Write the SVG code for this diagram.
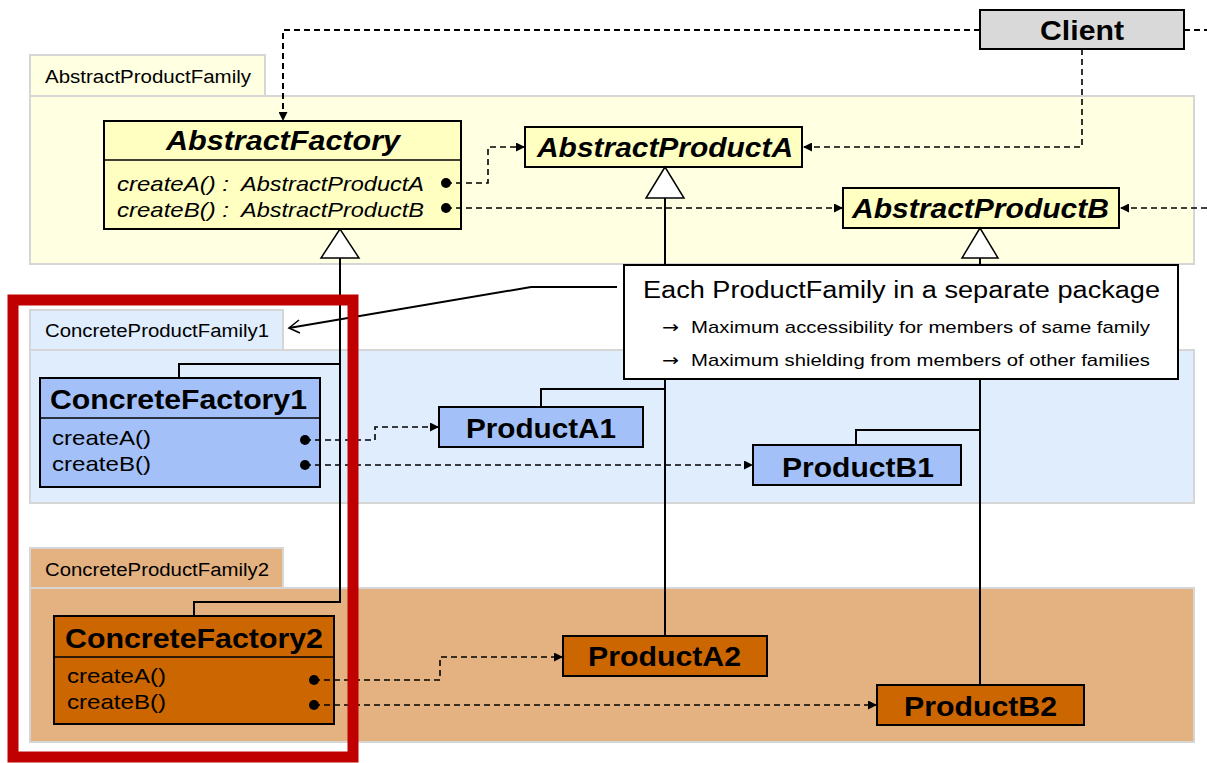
<svg xmlns="http://www.w3.org/2000/svg" width="1207" height="763" viewBox="0 0 1207 763">
<style>
text{font-family:"Liberation Sans",Arial,sans-serif;fill:#000}
.pkgY{fill:#ffffe1;stroke:#d6d6d6;stroke-width:2}
.pkgB{fill:#dfedfd;stroke:#d6d6d6;stroke-width:2}
.pkgO{fill:#e4b281;stroke:#d6d6d6;stroke-width:2}
.tab{font-size:18px}
.cY{fill:#ffffc2;stroke:#000;stroke-width:2}
.cB{fill:#a3c1f8;stroke:#000;stroke-width:2}
.cO{fill:#cc6600;stroke:#000;stroke-width:2}
.cG{fill:#d9d9d9;stroke:#000;stroke-width:2}
.sep{stroke:#000;stroke-width:1.5}
.bi{font-size:27px;font-weight:bold;font-style:italic}
.b{font-size:28px;font-weight:bold}
.mi{font-size:21px;font-style:italic}
.m{font-size:21px}
.dot{fill:#000}
.dash{fill:none;stroke:#000;stroke-width:1.6;stroke-dasharray:6 4;marker-end:url(#ah)}
.dashN{fill:none;stroke:#000;stroke-width:1.6;stroke-dasharray:6 4}
.gen{fill:none;stroke:#000;stroke-width:2}
.tri{fill:#fff;stroke:#000;stroke-width:1.5}
.arr{font-family:"DejaVu Sans",sans-serif;font-size:17px}
</style>
<defs>
<marker id="ah" viewBox="0 0 10 10" refX="10" refY="5" markerWidth="9" markerHeight="9" markerUnits="userSpaceOnUse" orient="auto">
<path d="M0,0 L10,5 L0,10 z" fill="#000"/>
</marker>
</defs>
<rect width="1207" height="763" fill="#fff"/>

<g id="pkg-abstract">
<rect class="pkgY" x="30" y="55" width="235" height="41"/>
<rect class="pkgY" x="30" y="96" width="1164" height="168"/>
<text class="tab" x="45" y="83" textLength="206" lengthAdjust="spacingAndGlyphs">AbstractProductFamily</text>
</g>
<g id="pkg-family1">
<rect class="pkgB" x="30" y="310" width="253" height="40"/>
<rect class="pkgB" x="30" y="350" width="1164" height="153"/>
<text class="tab" x="45" y="337" textLength="224" lengthAdjust="spacingAndGlyphs">ConcreteProductFamily1</text>
</g>
<g id="pkg-family2">
<rect class="pkgO" x="30" y="548" width="253" height="40"/>
<rect class="pkgO" x="30" y="588" width="1164" height="154"/>
<text class="tab" x="45" y="576" textLength="224" lengthAdjust="spacingAndGlyphs">ConcreteProductFamily2</text>
</g>

<g id="client">
<rect class="cG" x="980" y="10" width="204" height="39"/>
<text class="b" x="1040" y="40" textLength="84" lengthAdjust="spacingAndGlyphs">Client</text>
</g>
<g id="abstract-factory">
<rect class="cY" x="104" y="121" width="357" height="108"/>
<line class="sep" x1="104" y1="160" x2="461" y2="160"/>
<text class="bi" x="166" y="150" textLength="234" lengthAdjust="spacingAndGlyphs">AbstractFactory</text>
<text class="mi" x="117" y="191" textLength="112" lengthAdjust="spacingAndGlyphs">createA() :</text>
<text class="mi" x="241" y="191" textLength="183" lengthAdjust="spacingAndGlyphs">AbstractProductA</text>
<text class="mi" x="117" y="217" textLength="112" lengthAdjust="spacingAndGlyphs">createB() :</text>
<text class="mi" x="241" y="217" textLength="183" lengthAdjust="spacingAndGlyphs">AbstractProductB</text>
<circle class="dot" cx="446" cy="183" r="5"/>
<circle class="dot" cx="446" cy="208" r="5"/>
</g>
<g id="abstract-product-a">
<rect class="cY" x="525" y="127" width="277" height="40"/>
<text class="bi" x="537" y="157" textLength="256" lengthAdjust="spacingAndGlyphs">AbstractProductA</text>
</g>
<g id="abstract-product-b">
<rect class="cY" x="843" y="188" width="276" height="40"/>
<text class="bi" x="852" y="218" textLength="257" lengthAdjust="spacingAndGlyphs">AbstractProductB</text>
</g>
<g id="concrete-factory1">
<rect class="cB" x="40" y="378" width="280" height="109"/>
<line class="sep" x1="40" y1="418" x2="320" y2="418"/>
<text class="b" x="50" y="409" textLength="257" lengthAdjust="spacingAndGlyphs">ConcreteFactory1</text>
<text class="m" x="52" y="445" textLength="99" lengthAdjust="spacingAndGlyphs">createA()</text>
<text class="m" x="52" y="471" textLength="99" lengthAdjust="spacingAndGlyphs">createB()</text>
<circle class="dot" cx="305" cy="440" r="5"/>
<circle class="dot" cx="305" cy="465" r="5"/>
</g>
<g id="product-a1">
<rect class="cB" x="439" y="407" width="204" height="40"/>
<text class="b" x="466" y="438" textLength="150" lengthAdjust="spacingAndGlyphs">ProductA1</text>
</g>
<g id="product-b1">
<rect class="cB" x="753" y="445" width="208" height="40"/>
<text class="b" x="782" y="477" textLength="152" lengthAdjust="spacingAndGlyphs">ProductB1</text>
</g>
<g id="concrete-factory2">
<rect class="cO" x="54" y="616" width="280" height="108"/>
<line class="sep" x1="54" y1="657" x2="334" y2="657"/>
<text class="b" x="65" y="648" textLength="258" lengthAdjust="spacingAndGlyphs">ConcreteFactory2</text>
<text class="m" x="67" y="683" textLength="99" lengthAdjust="spacingAndGlyphs">createA()</text>
<text class="m" x="67" y="709" textLength="99" lengthAdjust="spacingAndGlyphs">createB()</text>
<circle class="dot" cx="314" cy="680" r="5"/>
<circle class="dot" cx="314" cy="705" r="5"/>
</g>
<g id="product-a2">
<rect class="cO" x="563" y="636" width="204" height="40"/>
<text class="b" x="588" y="666" textLength="153" lengthAdjust="spacingAndGlyphs">ProductA2</text>
</g>
<g id="product-b2">
<rect class="cO" x="877" y="685" width="207" height="40"/>
<text class="b" x="904" y="716" textLength="153" lengthAdjust="spacingAndGlyphs">ProductB2</text>
</g>

<g id="connectors">
<polyline class="gen" points="340,258 340,602 194,602 194,616"/>
<polyline class="gen" points="340,364 179,364 179,378"/>
<polyline class="gen" points="665,198 665,636"/>
<polyline class="gen" points="665,389 541,389 541,407"/>
<polyline class="gen" points="980,258 980,685"/>
<polyline class="gen" points="980,430 856,430 856,445"/>
<polygon class="tri" points="340,229 321,258 359,258"/>
<polygon class="tri" points="665,167 646,198 684,198"/>
<polygon class="tri" points="980,228 962,258 998,258"/>
<polyline class="dash" style="stroke-width:2" points="980,30 283,30 283,121"/>
<polyline class="dashN" style="stroke-width:2" points="1184,30 1207,30"/>
<polyline class="dash" points="1082,49 1082,147 803,147"/>
<polyline class="dash" points="1207,208 1120,208"/>
<polyline class="dash" points="446,183 488,183 488,147 525,147"/>
<polyline class="dash" points="446,208 843,208"/>
<polyline class="dash" points="305,440 375,440 375,427 439,427"/>
<polyline class="dash" points="305,465 753,465"/>
<polyline class="dash" points="314,680 440,680 440,657 563,657"/>
<polyline class="dash" points="314,705 877,705"/>
</g>

<g id="note">
<rect x="624" y="265" width="554" height="114" fill="#fff" stroke="#000" stroke-width="2"/>
<text x="643" y="298" font-size="23" textLength="517" lengthAdjust="spacingAndGlyphs">Each ProductFamily in a separate package</text>
<text class="arr" x="662" y="333" textLength="17" lengthAdjust="spacingAndGlyphs">→</text>
<text x="691" y="333" font-size="17" textLength="459" lengthAdjust="spacingAndGlyphs">Maximum accessibility for members of same family</text>
<text class="arr" x="662" y="366" textLength="17" lengthAdjust="spacingAndGlyphs">→</text>
<text x="691" y="366" font-size="17" textLength="459" lengthAdjust="spacingAndGlyphs">Maximum shielding from members of other families</text>
</g>
<g id="note-connector">
<polyline fill="none" stroke="#000" stroke-width="2" points="617,287 531,287 289,328"/>
<polyline fill="none" stroke="#000" stroke-width="1.6" points="299,320 289,328 300,333"/>
</g>

<g id="highlight">
<rect x="13" y="300" width="340" height="457" fill="none" stroke="#c00000" stroke-width="11"/>
</g>
</svg>
